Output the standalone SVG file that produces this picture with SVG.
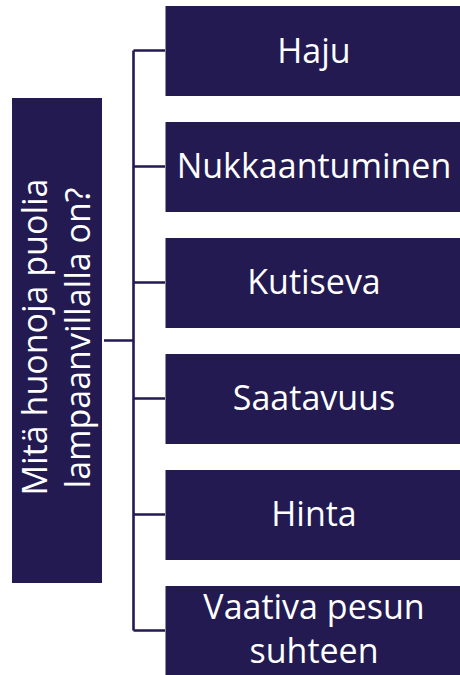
<svg xmlns="http://www.w3.org/2000/svg" width="460" height="675" viewBox="0 0 460 675">
<style>
.box{fill:#221a51}
.t{font-family:"Open Sans","Liberation Sans",sans-serif;font-size:34px;fill:#ffffff;text-anchor:middle}
.c{stroke:#221a51;stroke-width:2.6;fill:none}
</style>
<rect width="460" height="675" fill="#ffffff"/>
<g id="connectors">
<path class="c" d="M104 340.5H133.5M133.5 50.5V630.5M133.5 50.5H165M133.5 166.5H165M133.5 282.5H165M133.5 398.5H165M133.5 514.5H165M133.5 630.5H165"/>
</g>
<g id="root">
<rect class="box" x="12" y="98" width="90" height="485"/>
<text class="t" x="47" y="337" transform="rotate(-90 47 337)">Mitä huonoja puolia</text>
<text class="t" x="90" y="338" transform="rotate(-90 90 338)">lampaanvillalla on?</text>
</g>
<g id="n1"><rect class="box" x="165.5" y="6" width="295" height="90"/><text class="t" x="314" y="62.5">Haju</text></g>
<g id="n2"><rect class="box" x="165.5" y="122" width="295" height="90"/><text class="t" x="314" y="178">Nukkaantuminen</text></g>
<g id="n3"><rect class="box" x="165.5" y="238" width="295" height="90"/><text class="t" x="314" y="294">Kutiseva</text></g>
<g id="n4"><rect class="box" x="165.5" y="354" width="295" height="90"/><text class="t" x="314" y="410">Saatavuus</text></g>
<g id="n5"><rect class="box" x="165.5" y="470" width="295" height="90"/><text class="t" x="314" y="526">Hinta</text></g>
<g id="n6"><rect class="box" x="165.5" y="586" width="295" height="90"/><text class="t" x="314" y="619">Vaativa pesun</text><text class="t" x="314" y="663">suhteen</text></g>
</svg>
